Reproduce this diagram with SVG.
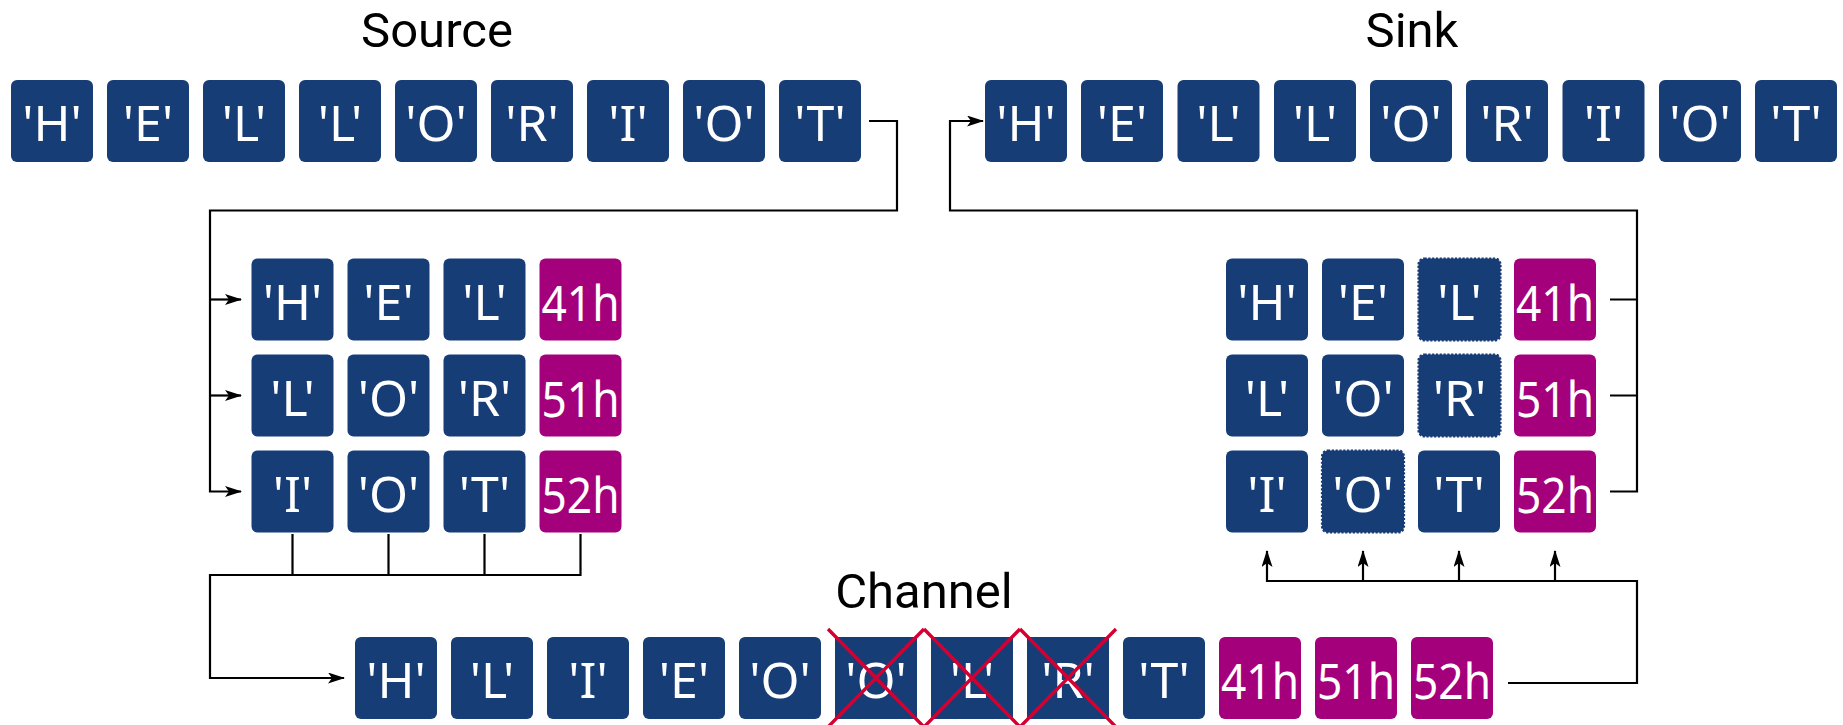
<svg xmlns="http://www.w3.org/2000/svg" width="1843" height="725" viewBox="0 0 1843 725">
<style>
.b{fill:#173d76}
.m{fill:#a5007b}
.d{fill:#173d76;stroke:#173d76;stroke-width:2.2;stroke-dasharray:2.2 1.6}
.t{font-family:"Noto Sans","Open Sans",sans-serif;font-size:50px;fill:#fff;text-anchor:middle}
.h{font-family:"Noto Sans","Open Sans",sans-serif;font-size:50px;fill:#fff;text-anchor:middle}
.ttl{font-family:Roboto,"Noto Sans",sans-serif;font-size:49px;fill:#000;text-anchor:middle}
.ln{fill:none;stroke:#000;stroke-width:2.2}
.x{stroke:#d50032;stroke-width:3.4;fill:none}
</style>
<defs>
<marker id="ah" markerUnits="userSpaceOnUse" markerWidth="18" markerHeight="12" refX="16" refY="5.5" orient="auto">
<path d="M0,0 L17,5.5 L0,11 L4,5.5 Z" fill="#000"/>
</marker>
<rect id="bx" width="82" height="82" rx="6"/>
</defs>

<text class="ttl" x="437" y="47">Source</text>
<text class="ttl" x="1412" y="47">Sink</text>
<text class="ttl" x="924" y="608">Channel</text>

<g id="source">
<g id="src0"><use href="#bx" class="b" x="11" y="80"/><text class="t" x="52" y="141">'H'</text></g>
<g id="src1"><use href="#bx" class="b" x="107" y="80"/><text class="t" x="148" y="141">'E'</text></g>
<g id="src2"><use href="#bx" class="b" x="203" y="80"/><text class="t" x="244" y="141">'L'</text></g>
<g id="src3"><use href="#bx" class="b" x="299" y="80"/><text class="t" x="340" y="141">'L'</text></g>
<g id="src4"><use href="#bx" class="b" x="395" y="80"/><text class="t" x="436" y="141">'O'</text></g>
<g id="src5"><use href="#bx" class="b" x="491" y="80"/><text class="t" x="532" y="141">'R'</text></g>
<g id="src6"><use href="#bx" class="b" x="587" y="80"/><text class="t" x="628" y="141">'I'</text></g>
<g id="src7"><use href="#bx" class="b" x="683" y="80"/><text class="t" x="724" y="141">'O'</text></g>
<g id="src8"><use href="#bx" class="b" x="779" y="80"/><text class="t" x="820" y="141">'T'</text></g>
</g>

<g id="sink">
<g id="snk0"><use href="#bx" class="b" x="985" y="80"/><text class="t" x="1026" y="141">'H'</text></g>
<g id="snk1"><use href="#bx" class="b" x="1081" y="80"/><text class="t" x="1122" y="141">'E'</text></g>
<g id="snk2"><use href="#bx" class="b" x="1177.5" y="80"/><text class="t" x="1218.5" y="141">'L'</text></g>
<g id="snk3"><use href="#bx" class="b" x="1274" y="80"/><text class="t" x="1315" y="141">'L'</text></g>
<g id="snk4"><use href="#bx" class="b" x="1370" y="80"/><text class="t" x="1411" y="141">'O'</text></g>
<g id="snk5"><use href="#bx" class="b" x="1466" y="80"/><text class="t" x="1507" y="141">'R'</text></g>
<g id="snk6"><use href="#bx" class="b" x="1562.5" y="80"/><text class="t" x="1603.5" y="141">'I'</text></g>
<g id="snk7"><use href="#bx" class="b" x="1659" y="80"/><text class="t" x="1700" y="141">'O'</text></g>
<g id="snk8"><use href="#bx" class="b" x="1755" y="80"/><text class="t" x="1796" y="141">'T'</text></g>
</g>

<g id="encoder">
<g id="e00"><use href="#bx" class="b" x="251.5" y="258.5"/><text class="t" x="292.5" y="319.5">'H'</text></g>
<g id="e01"><use href="#bx" class="b" x="347.5" y="258.5"/><text class="t" x="388.5" y="319.5">'E'</text></g>
<g id="e02"><use href="#bx" class="b" x="443.5" y="258.5"/><text class="t" x="484.5" y="319.5">'L'</text></g>
<g id="e03"><use href="#bx" class="m" x="539.5" y="258.5"/><text class="h" x="580.5" y="320.5" textLength="78" lengthAdjust="spacingAndGlyphs">41h</text></g>
<g id="e10"><use href="#bx" class="b" x="251.5" y="354.5"/><text class="t" x="292.5" y="415.5">'L'</text></g>
<g id="e11"><use href="#bx" class="b" x="347.5" y="354.5"/><text class="t" x="388.5" y="415.5">'O'</text></g>
<g id="e12"><use href="#bx" class="b" x="443.5" y="354.5"/><text class="t" x="484.5" y="415.5">'R'</text></g>
<g id="e13"><use href="#bx" class="m" x="539.5" y="354.5"/><text class="h" x="580.5" y="416.5" textLength="78" lengthAdjust="spacingAndGlyphs">51h</text></g>
<g id="e20"><use href="#bx" class="b" x="251.5" y="450.5"/><text class="t" x="292.5" y="511.5">'I'</text></g>
<g id="e21"><use href="#bx" class="b" x="347.5" y="450.5"/><text class="t" x="388.5" y="511.5">'O'</text></g>
<g id="e22"><use href="#bx" class="b" x="443.5" y="450.5"/><text class="t" x="484.5" y="511.5">'T'</text></g>
<g id="e23"><use href="#bx" class="m" x="539.5" y="450.5"/><text class="h" x="580.5" y="512.5" textLength="78" lengthAdjust="spacingAndGlyphs">52h</text></g>
</g>

<g id="decoder">
<g id="d00"><use href="#bx" class="b" x="1226" y="258.5"/><text class="t" x="1267" y="319.5">'H'</text></g>
<g id="d01"><use href="#bx" class="b" x="1322" y="258.5"/><text class="t" x="1363" y="319.5">'E'</text></g>
<g id="d02"><use href="#bx" class="d" x="1418.5" y="258.5"/><text class="t" x="1459.5" y="319.5">'L'</text></g>
<g id="d03"><use href="#bx" class="m" x="1514" y="258.5"/><text class="h" x="1555" y="320.5" textLength="78" lengthAdjust="spacingAndGlyphs">41h</text></g>
<g id="d10"><use href="#bx" class="b" x="1226" y="354.5"/><text class="t" x="1267" y="415.5">'L'</text></g>
<g id="d11"><use href="#bx" class="b" x="1322" y="354.5"/><text class="t" x="1363" y="415.5">'O'</text></g>
<g id="d12"><use href="#bx" class="d" x="1418.5" y="354.5"/><text class="t" x="1459.5" y="415.5">'R'</text></g>
<g id="d13"><use href="#bx" class="m" x="1514" y="354.5"/><text class="h" x="1555" y="416.5" textLength="78" lengthAdjust="spacingAndGlyphs">51h</text></g>
<g id="d20"><use href="#bx" class="b" x="1226" y="450.5"/><text class="t" x="1267" y="511.5">'I'</text></g>
<g id="d21"><use href="#bx" class="d" x="1322" y="450.5"/><text class="t" x="1363" y="511.5">'O'</text></g>
<g id="d22"><use href="#bx" class="b" x="1418" y="450.5"/><text class="t" x="1459" y="511.5">'T'</text></g>
<g id="d23"><use href="#bx" class="m" x="1514" y="450.5"/><text class="h" x="1555" y="512.5" textLength="78" lengthAdjust="spacingAndGlyphs">52h</text></g>
</g>

<g id="channel">
<g id="c0"><use href="#bx" class="b" x="355" y="637"/><text class="t" x="396" y="698">'H'</text></g>
<g id="c1"><use href="#bx" class="b" x="451" y="637"/><text class="t" x="492" y="698">'L'</text></g>
<g id="c2"><use href="#bx" class="b" x="547" y="637"/><text class="t" x="588" y="698">'I'</text></g>
<g id="c3"><use href="#bx" class="b" x="643" y="637"/><text class="t" x="684" y="698">'E'</text></g>
<g id="c4"><use href="#bx" class="b" x="739" y="637"/><text class="t" x="780" y="698">'O'</text></g>
<g id="c5"><rect class="b" x="835" y="637" width="82" height="82"/><text class="t" x="876" y="698">'O'</text><path class="x" d="M828,629 L924,727 M924,629 L828,727"/></g>
<g id="c6"><rect class="b" x="931" y="637" width="82" height="82"/><text class="t" x="972" y="698">'L'</text><path class="x" d="M924,629 L1020,727 M1020,629 L924,727"/></g>
<g id="c7"><rect class="b" x="1027" y="637" width="82" height="82"/><text class="t" x="1068" y="698">'R'</text><path class="x" d="M1020,629 L1116,727 M1116,629 L1020,727"/></g>
<g id="c8"><use href="#bx" class="b" x="1123" y="637"/><text class="t" x="1164" y="698">'T'</text></g>
<g id="c9"><use href="#bx" class="m" x="1219" y="637"/><text class="h" x="1260" y="699" textLength="78" lengthAdjust="spacingAndGlyphs">41h</text></g>
<g id="c10"><use href="#bx" class="m" x="1315" y="637"/><text class="h" x="1356" y="699" textLength="78" lengthAdjust="spacingAndGlyphs">51h</text></g>
<g id="c11"><use href="#bx" class="m" x="1411" y="637"/><text class="h" x="1452" y="699" textLength="78" lengthAdjust="spacingAndGlyphs">52h</text></g>
</g>

<g id="connectors">
<path class="ln" d="M869,121 H897 V210.5 H210 V491.5 H241" marker-end="url(#ah)"/>
<path class="ln" d="M210,299.5 H241" marker-end="url(#ah)"/>
<path class="ln" d="M210,395.5 H241" marker-end="url(#ah)"/>
<path class="ln" d="M292.5,534 V575 M388.5,534 V575 M484.5,534 V575"/>
<path class="ln" d="M580.5,534 V575 H210 V678 H344" marker-end="url(#ah)"/>
<path class="ln" d="M1508,683 H1637 V581 H1267 V551" marker-end="url(#ah)"/>
<path class="ln" d="M1363,581 V551" marker-end="url(#ah)"/>
<path class="ln" d="M1459,581 V551" marker-end="url(#ah)"/>
<path class="ln" d="M1555,581 V551" marker-end="url(#ah)"/>
<path class="ln" d="M1610,299.5 H1637 M1610,395.5 H1637"/>
<path class="ln" d="M1610,491.5 H1637 V210.5 H950 V121 H983" marker-end="url(#ah)"/>
</g>
</svg>
